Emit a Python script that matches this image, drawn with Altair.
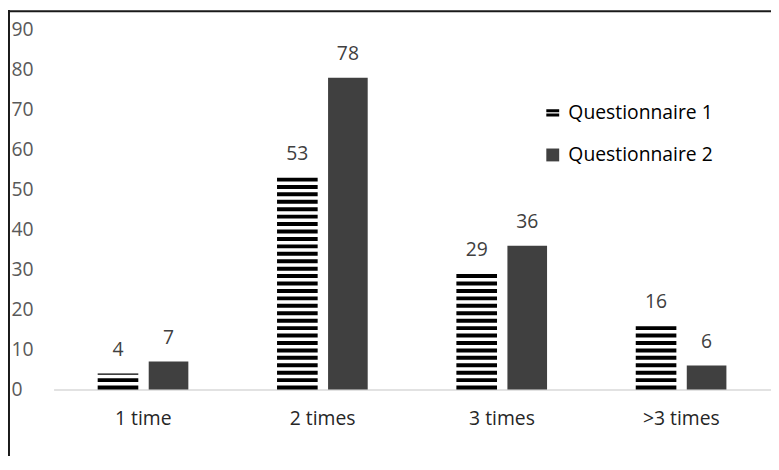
import altair as alt
import pandas as pd

categories = ["1 time", "2 times", "3 times", ">3 times"]
series_names = ["Questionnaire 1", "Questionnaire 2"]
q1_values = [4, 53, 29, 16]
q2_values = [7, 78, 36, 6]
y_ticks = [0, 10, 20, 30, 40, 50, 60, 70, 80, 90]

rows = []
for c, v1, v2 in zip(categories, q1_values, q2_values):
    rows.append({"cat": c, "series": series_names[0], "value": v1, "base": 0})
    rows.append({"cat": c, "series": series_names[1], "value": v2, "base": 0})
df = pd.DataFrame(rows)

FONT = "Open Sans"
FS = 19.5
Q1_SYMBOL = "M-1,-0.55H1V-0.1H-1Z M-1,0.1H1V0.55H-1Z"

x_enc = alt.X(
    "cat:N",
    sort=categories,
    scale=alt.Scale(paddingInner=0, paddingOuter=0),
    axis=alt.Axis(
        title=None, labelAngle=0, labelFontSize=FS, labelColor="#262626",
        labelPadding=20, domainColor="#d9d9d9", domainWidth=1.5,
        ticks=False, grid=False, labelFont=FONT,
    ),
)
y_scale = alt.Scale(domain=[0, 90], nice=False, zero=True)
y_axis = alt.Axis(
    title=None, values=y_ticks, labelAlign="left", labelPadding=43,
    labelFontSize=FS, labelColor="#595959", domain=False, ticks=False,
    grid=False, labelFont=FONT,
)
y_val = alt.Y("value:Q", scale=y_scale, axis=y_axis)

base = alt.Chart(df)
q1 = base.transform_filter(alt.datum.series == series_names[0])
q2 = base.transform_filter(alt.datum.series == series_names[1])

# striped bars: a thick dashed rule starting at the baseline
stripes = q1.mark_rule(
    color="#000000", strokeWidth=41, strokeDash=[4, 3.5], xOffset=-25.5
).encode(
    x=x_enc,
    y=alt.Y("base:Q", scale=y_scale, axis=y_axis),
    y2=alt.Y2("value:Q"),
)

bars2 = q2.mark_bar(color="#404040", width=40, xOffset=25.5).encode(
    x=x_enc, y=y_val
)

lab1 = q1.mark_text(
    dy=-24, fontSize=FS, color="#404040", xOffset=-25.5, font=FONT, baseline="middle"
).encode(x=x_enc, y=y_val, text="value:Q")
lab2 = q2.mark_text(
    dy=-24, fontSize=FS, color="#404040", xOffset=25.5, font=FONT, baseline="middle"
).encode(x=x_enc, y=y_val, text="value:Q")

legend = alt.Legend(
    title=None, orient="none", legendX=494, legendY=74, padding=0,
    symbolSize=169, symbolOpacity=1, symbolStrokeWidth=0,
    labelFontSize=FS, labelColor="#000000", labelOffset=6,
    rowPadding=21.5, labelFont=FONT,
)
legend_pts = base.mark_point(filled=True, opacity=0).encode(
    x=x_enc,
    y=y_val,
    shape=alt.Shape(
        "series:N",
        scale=alt.Scale(domain=series_names, range=[Q1_SYMBOL, "square"]),
        legend=legend,
    ),
    color=alt.Color(
        "series:N",
        scale=alt.Scale(domain=series_names, range=["#000000", "#404040"]),
        legend=legend,
    ),
)

border_df = pd.DataFrame({"k": [0]})
left_border = alt.Chart(border_df).mark_rule(color="#1a1a1a", strokeWidth=2).encode(
    x=alt.value(-45), y=alt.value(-20), y2=alt.value(430)
)
top_border = alt.Chart(border_df).mark_rule(color="#1a1a1a", strokeWidth=2).encode(
    x=alt.value(-46), x2=alt.value(724), y=alt.value(-18.7)
)

chart = (
    alt.layer(stripes, bars2, lab1, lab2, legend_pts, left_border, top_border)
    .properties(
        width=724,
        height=363,
        padding={"left": 46, "top": 20, "right": 0, "bottom": 65},
        autosize=alt.AutoSizeParams(type="none"),
    )
    .configure(font=FONT)
    .configure_view(strokeWidth=0)
)

chart.save("out.html", embed_options={"renderer": "svg", "actions": False})
